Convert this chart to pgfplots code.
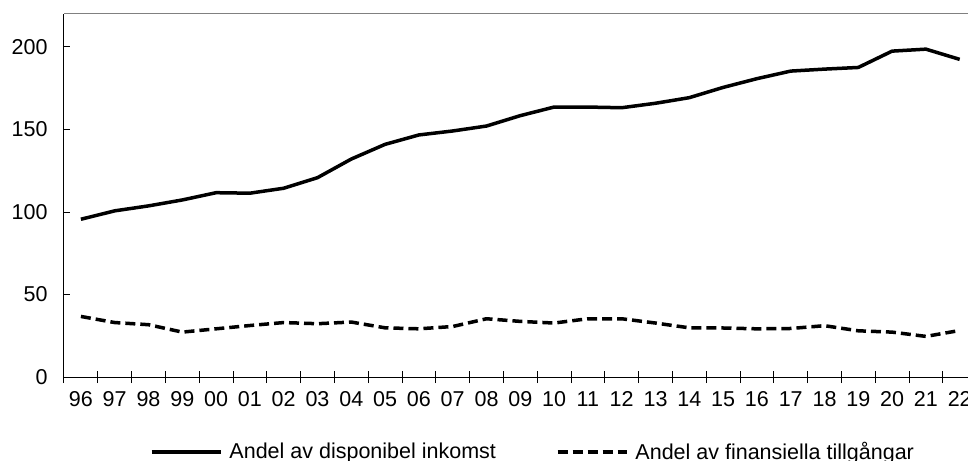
\documentclass[border=0pt]{standalone}
\usepackage{fontspec}
\setmainfont{Liberation Sans}
\usepackage{pgfplots}
\pgfplotsset{compat=1.18}
\begin{document}
\fontsize{22bp}{26bp}\selectfont
\begin{tikzpicture}
\begin{axis}[
  at={(0,0)}, anchor=south west,
  scale only axis, width=912.6bp, height=363bp,
  xmin=-0.5, xmax=26.5, ymin=0, ymax=220,
  axis lines=left, axis line style={-, black, line width=1bp},
  clip=false,
  xtick={0,...,26},
  xticklabels={96,97,98,99,00,01,02,03,04,05,06,07,08,09,10,11,12,13,14,15,16,17,18,19,20,21,22},
  minor xtick={-0.5,0.5,...,25.5},
  major x tick style={draw=none},
  minor tick length=12bp, xtick align=center,
  ytick={0,50,100,150,200}, ytick align=inside, major tick length=6.5bp,
  tick style={black, line width=1bp},
  tick label style={font=\fontsize{21.5bp}{25bp}\selectfont},
  /pgf/number format/assume math mode=true,
  xticklabel style={anchor=north, text height=15.5bp, text depth=0bp, yshift=-3bp},
  yticklabel style={xshift=-9bp},
  legend style={at={(axis description cs:0.0942,-0.2066)}, anchor=west,
    draw=none, fill=none, inner sep=0pt, outer sep=0pt,
    nodes={inner sep=0pt},
    font=\fontsize{21.5bp}{25bp}\selectfont,
    /tikz/every even column/.append style={column sep=60bp},
    /tikz/every odd column/.append style={column sep=7bp}},
  legend columns=2,
  legend image code/.code={\draw[#1] (0bp,0bp) -- (69bp,0bp);},
]
\addplot[black, line width=3.5bp, line join=round] coordinates {
(0,95.6) (1,100.7) (2,103.7) (3,107.3) (4,111.7) (5,111.4) (6,114.4) (7,120.8)
(8,132.1) (9,141.0) (10,146.7) (11,149.1) (12,152.1) (13,158.4) (14,163.6)
(15,163.6) (16,163.2) (17,165.9) (18,169.3) (19,175.5) (20,180.8) (21,185.4)
(22,186.6) (23,187.6) (24,197.5) (25,198.7) (26,192.5)};
\addlegendentry{Andel av disponibel inkomst}
\addplot[black, line width=3.5bp, line join=round, dash pattern=on 10bp off 5bp] coordinates {
(0,36.7) (1,33.0) (2,31.7) (3,27.2) (4,29.2) (5,31.2) (6,33.0) (7,32.3)
(8,33.3) (9,29.8) (10,29.2) (11,30.6) (12,35.3) (13,33.7) (14,32.7)
(15,35.3) (16,35.3) (17,32.7) (18,29.8) (19,29.7) (20,29.2) (21,29.4)
(22,31.1) (23,28.0) (24,27.2) (25,24.6) (26,28.2)};
\addlegendentry{Andel av finansiella tillgångar}
\draw[gray, line width=1bp] (rel axis cs:0,1) -- (rel axis cs:1,1);
\end{axis}
\pgfresetboundingbox
\useasboundingbox (-64bp,-84bp) rectangle (904bp,377bp);
\end{tikzpicture}
\end{document}
